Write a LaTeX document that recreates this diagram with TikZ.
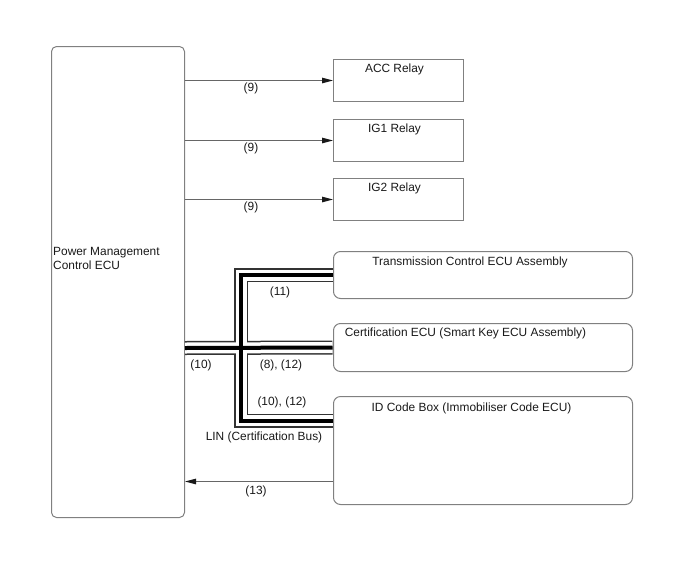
\documentclass[tikz,border=0pt]{standalone}
\usepackage{fontspec}
\setmainfont{Liberation Sans}
\usetikzlibrary{arrows.meta,calc}
\begin{document}
\begin{tikzpicture}[x=1pt,y=-1pt,font=\fontsize{11.9}{14}\selectfont,
  box/.style={draw=black!50,line width=1pt,anchor=north west,inner sep=0pt},
  rbox/.style={box,rounded corners=7pt,minimum width=299pt},
  relay/.style={box,minimum width=130pt,minimum height=42pt},
  sig/.style={draw=black!60,line width=1pt,-{Triangle[length=11pt,width=5.5pt,color=black!90]}},
  lbl/.style={inner sep=0pt,text=black!90}]
  \useasboundingbox (0,0) rectangle (688,560);
  % units
  \node[box,rounded corners=5pt,minimum width=133pt,minimum height=471pt] (pmc) at (51,46) {};
  \node[relay] (acc) at (333,59) {};
  \node[relay] (ig1) at (333,119) {};
  \node[relay] (ig2) at (333,178) {};
  \node[rbox,minimum height=47pt] (tcm) at (333,251) {};
  \node[rbox,minimum height=48pt] (cert) at (333,323) {};
  \node[rbox,minimum height=108pt] (idb) at (333,396) {};
  \node[lbl,align=left,anchor=west] (pmctxt) at ([xshift=2pt,yshift=24pt]pmc.west) {Power Management\\Control ECU};
  \node[lbl] (acctxt) at ([xshift=-4pt,yshift=-10pt]acc.north) {ACC Relay};
  \node[lbl] (ig1txt) at ([xshift=-4pt,yshift=-10pt]ig1.north) {IG1 Relay};
  \node[lbl] (ig2txt) at ([xshift=-4pt,yshift=-10pt]ig2.north) {IG2 Relay};
  \node[lbl] (tcmtxt) at ([xshift=-13pt,yshift=-11pt]tcm.north) {Transmission Control ECU Assembly};
  \node[lbl] (certtxt) at ([xshift=-17.5pt,yshift=-10pt]cert.north) {Certification ECU (Smart Key ECU Assembly)};
  \node[lbl] (idbtxt) at ([xshift=-11.5pt,yshift=-12pt]idb.north) {ID Code Box (Immobiliser Code ECU)};
  % relay outputs
  \draw[sig] (pmc.east |- acc.west) -- (acc.west);
  \draw[sig] (pmc.east |- ig1.west) -- (ig1.west);
  \draw[sig] (pmc.east |- ig2.west) -- (ig2.west);
  \node[lbl] (acc9) at ($(pmc.east |- acc.west)+(66,8)$) {(9)};
  \node[lbl] (ig19) at ($(pmc.east |- ig1.west)+(66,8)$) {(9)};
  \node[lbl] (ig29) at ($(pmc.east |- ig2.west)+(66,8)$) {(9)};
  % LIN bus
  \coordinate (jn) at (241,348);
  \coordinate (idlin) at ([yshift=30pt]idb.west);
  \foreach \w/\c in {14/black!80,11/white,4/black}{
    \draw[line width=\w pt,\c,line join=miter] ([xshift=-0.5pt]tcm.west) -| (jn) |- ([xshift=-0.5pt]idlin);
    \draw[line width=\w pt,\c] (pmc.east |- jn) -- ([xshift=-0.5pt]cert.west);
  }
  \node[lbl] (b11) at ($(jn)+(39,-56)$) {(11)};
  \node[lbl] (b10) at ($(jn)+(-40,17)$) {(10)};
  \node[lbl] (b812) at ($(jn)+(40,17)$) {(8), (12)};
  \node[lbl] (b1012) at ($(jn)+(41,54)$) {(10), (12)};
  \node[lbl] (linbus) at ($(jn)+(23,89)$) {LIN (Certification Bus)};
  % return line
  \coordinate (id13) at ([yshift=-31pt]idb.west);
  \draw[sig] (id13) -- (pmc.east |- id13);
  \node[lbl] (s13) at ($(pmc.east |- id13)+(71,10)$) {(13)};
\end{tikzpicture}
\end{document}
